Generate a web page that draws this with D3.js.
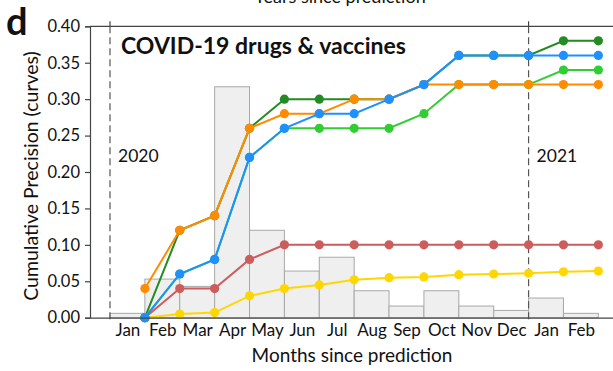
<!DOCTYPE html>
<html>
<head>
<meta charset="utf-8">
<script src="https://cdn.jsdelivr.net/npm/d3@7"></script>
<style>
  html, body { margin: 0; padding: 0; background: #fff; }
  svg { display: block; font-family: Lato, "Open Sans", sans-serif; }
</style>
</head>
<body>
<svg id="chart" width="613" height="371"></svg>
<script>
// Month bins since the prediction date (Jan 2020 .. Feb 2021)
const months = ["Jan", "Feb", "Mar", "Apr", "May", "Jun", "Jul", "Aug", "Sep", "Oct", "Nov", "Dec", "Jan", "Feb"];

// Histogram of hits per month (grey bars)
const barValues = [0.006, 0.053, 0.043, 0.317, 0.12, 0.064, 0.083, 0.037, 0.016, 0.037, 0.016, 0.010, 0.027, 0.006];

// Cumulative precision curves, one value at the end of each month (Feb 2020 .. Mar 2021)
const redValues       = [0, 0.04, 0.04, 0.08, 0.10, 0.10, 0.10, 0.10, 0.10, 0.10, 0.10, 0.10, 0.10, 0.10];
const yellowValues    = [0, 0.005, 0.007, 0.030, 0.040, 0.045, 0.052, 0.055, 0.056, 0.059, 0.060, 0.061, 0.063, 0.064];
const darkGreenValues = [0, 0.12, 0.14, 0.26, 0.30, 0.30, 0.30, 0.30, 0.32, 0.36, 0.36, 0.36, 0.38, 0.38];
const limeValues      = [0, 0.06, 0.08, 0.22, 0.26, 0.26, 0.26, 0.26, 0.28, 0.32, 0.32, 0.32, 0.34, 0.34];
const orangeValues    = [0.04, 0.12, 0.14, 0.26, 0.28, 0.28, 0.30, 0.30, 0.32, 0.32, 0.32, 0.32, 0.32, 0.32];
const blueValues      = [0, 0.06, 0.08, 0.22, 0.26, 0.28, 0.28, 0.30, 0.32, 0.36, 0.36, 0.36, 0.36, 0.36];

const yTicks = [0, 0.05, 0.10, 0.15, 0.20, 0.25, 0.30, 0.35, 0.40];
const yearMarks = [{ pos: 0, label: "2020" }, { pos: 12, label: "2021" }];

const series = [
  { values: yellowValues,    color: "#ffd700" },
  { values: redValues,       color: "#cd5c5c" },
  { values: darkGreenValues, color: "#228b22" },
  { values: limeValues,      color: "#32cd32" },
  { values: orangeValues,    color: "#ff8c00" },
  { values: blueValues,      color: "#1e90ff" }
];

const svg = d3.select("#chart");
const plotLeft = 90, plotRight = 613, plotTop = 26.3, plotBottom = 317.7;

// month index -> pixel; boundary k sits at the start of month k
const x = d3.scaleLinear().domain([-0.573, 14.42]).range([plotLeft, plotRight]);
const y = d3.scaleLinear().domain([0, 0.4]).range([plotBottom, plotTop]);
const axisColor = "#444";

// Bars
svg.append("g").selectAll("rect").data(barValues).join("rect")
  .attr("x", (d, i) => x(i))
  .attr("width", (d, i) => x(i + 1) - x(i))
  .attr("y", d => y(d))
  .attr("height", d => y(0) - y(d))
  .attr("fill", "#efefef")
  .attr("stroke", "#a8a8a8")
  .attr("stroke-width", 1);

// Year boundaries
svg.append("g").selectAll("line").data(yearMarks).join("line")
  .attr("x1", d => x(d.pos)).attr("x2", d => x(d.pos))
  .attr("y1", plotTop).attr("y2", plotBottom + 5)
  .attr("stroke", "#555").attr("stroke-width", 1.2)
  .attr("stroke-dasharray", "7,4");
svg.append("g").selectAll("line").data(yearMarks).join("line")
  .attr("x1", d => x(d.pos)).attr("x2", d => x(d.pos))
  .attr("y1", plotTop - 5).attr("y2", plotTop)
  .attr("stroke", axisColor).attr("stroke-width", 1.2);
svg.append("g").selectAll("text").data(yearMarks).join("text")
  .attr("x", d => x(d.pos) + 8)
  .attr("y", 162)
  .attr("font-size", 17.5)
  .attr("fill", "#111")
  .text(d => d.label);

// Curves
const line = d3.line().x((d, i) => x(i + 1)).y(d => y(d));
series.forEach(s => {
  const g = svg.append("g");
  g.append("path").datum(s.values)
    .attr("d", line).attr("fill", "none")
    .attr("stroke", s.color).attr("stroke-width", 2);
  g.selectAll("circle").data(s.values).join("circle")
    .attr("cx", (d, i) => x(i + 1)).attr("cy", d => y(d))
    .attr("r", 4.6).attr("fill", s.color);
});

// Left axis
const yAxis = svg.append("g").attr("transform", `translate(${plotLeft},0)`)
  .call(d3.axisLeft(y).tickValues(yTicks).tickFormat(d3.format(".2f")).tickSize(5).tickPadding(5));
yAxis.select(".domain").attr("stroke", axisColor).attr("stroke-width", 1.2);
yAxis.selectAll(".tick line").attr("stroke", axisColor).attr("stroke-width", 1.2);
yAxis.selectAll("text").attr("font-size", 16.5).attr("fill", "#111").attr("font-family", "Lato, sans-serif");

// Bottom axis with month names centred in each bin
const xAxis = svg.append("g").attr("transform", `translate(0,${plotBottom})`)
  .call(d3.axisBottom(x).tickValues(months.map((m, i) => i + 0.5))
    .tickFormat((d, i) => months[i]).tickSize(0).tickPadding(6));
xAxis.select(".domain").attr("stroke", axisColor).attr("stroke-width", 1.2);
xAxis.selectAll("text").attr("font-size", 17).attr("fill", "#111").attr("font-family", "Lato, sans-serif");

// Top axis line
svg.append("line").attr("x1", plotLeft).attr("x2", plotRight).attr("y1", plotTop).attr("y2", plotTop)
  .attr("stroke", axisColor).attr("stroke-width", 1.2);

// Labels
svg.append("text").attr("x", 6).attr("y", 35).attr("font-size", 38).attr("font-weight", 700)
  .attr("fill", "#111").text("d");
svg.append("text").attr("x", 340).attr("y", 3).attr("text-anchor", "middle")
  .attr("font-size", 18).attr("fill", "#111").text("Years since prediction");
svg.append("text").attr("x", 121).attr("y", 54).attr("font-size", 23).attr("font-weight", 700)
  .attr("fill", "#111").text("COVID-19 drugs & vaccines");
svg.append("text").attr("transform", `translate(38,${(plotTop + plotBottom) / 2 + 4}) rotate(-90)`)
  .attr("text-anchor", "middle").attr("font-size", 19.5).attr("fill", "#111")
  .text("Cumulative Precision (curves)");
svg.append("text").attr("x", 352).attr("y", 362).attr("text-anchor", "middle")
  .attr("font-size", 19).attr("fill", "#111").text("Months since prediction");
</script>
</body>
</html>
